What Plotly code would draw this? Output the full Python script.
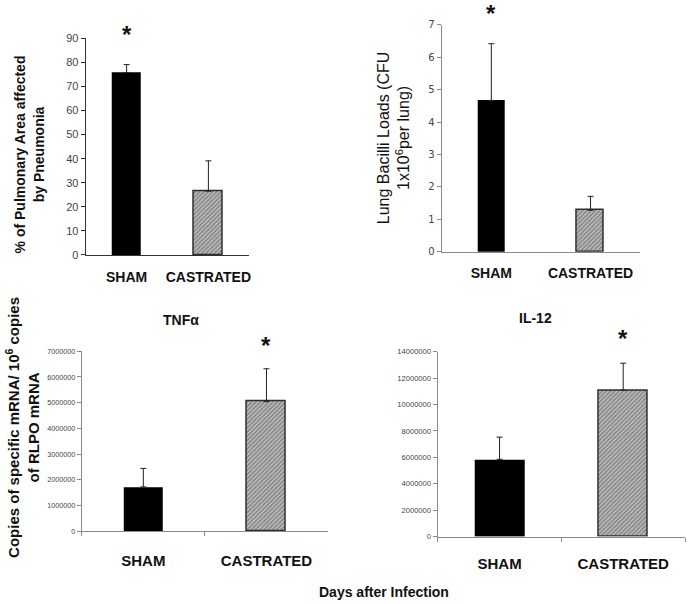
import plotly.graph_objects as go

# ---- data ----
categories = ["SHAM", "CASTRATED"]
pneumonia = [75.7, 26.5]
pneumonia_err = [3.4, 12.6]
bacilli = [4.67, 1.28]
bacilli_err = [1.75, 0.43]
tnf = [1720000, 5040000]
tnf_err = [720000, 1280000]
il12 = [5850000, 11080000]
il12_err = [1680000, 2050000]

W, H = 691, 604


def px(x):
    return x / W


def py(y):
    return 1 - y / H


fig = go.Figure()

panels = [
    # suffix, values, errors, bar width, x px range, y px range (top,bottom), y range, dtick
    ("", pneumonia, pneumonia_err, 0.354, (86, 250), (33, 254), 90, 10),
    ("2", bacilli, bacilli_err, 0.27, (443, 642), (19.3, 250.7), 7, 1),
    ("3", tnf, tnf_err, 0.32, (82, 329), (352.3, 535.7), 7000000, 1000000),
    ("4", il12, il12_err, 0.40, (439, 687), (352.7, 541.3), 14000000, 2000000),
]

for suf, vals, errs, bw, xr, yr, ymax, dt in panels:
    fig.add_trace(go.Bar(
        x=categories, y=vals, width=[bw, bw],
        marker=dict(
            color=["#000000", "#c4c4c4"],
            line=dict(color=["#000000", "#2e2e2e"], width=[0, 1.5]),
            pattern=dict(shape=["", "/"], size=3, solidity=0.55,
                         fgcolor=["#000000", "#363636"]),
        ),
        error_y=dict(type="data", symmetric=False, array=errs,
                     arrayminus=[0, 0], color="#222222", thickness=1, width=3),
        xaxis="x" + suf, yaxis="y" + suf, showlegend=False,
    ))

axis_color = {"": "#333333", "2": "#8a8a8a", "3": "#8a8a8a", "4": "#8a8a8a"}
tick_fonts = {
    "": dict(family="Liberation Sans, Arial", size=11, color="#444444"),
    "2": dict(family="DejaVu Sans", size=10, color="#444444"),
    "3": dict(family="Liberation Sans, Arial", size=7.2, color="#444444"),
    "4": dict(family="Liberation Sans, Arial", size=7.6, color="#444444"),
}
x_label_font = {
    "": dict(family="Liberation Sans, Arial", size=14, color="#111111"),
    "2": dict(family="Liberation Sans, Arial", size=14, color="#111111"),
    "3": dict(family="Liberation Sans, Arial", size=15, color="#111111"),
    "4": dict(family="Liberation Sans, Arial", size=15, color="#111111"),
}
standoffs = {"": 9, "2": 8, "3": 16, "4": 13}

layout = dict(
    width=W, height=H, margin=dict(l=0, r=0, t=0, b=0),
    plot_bgcolor="white", paper_bgcolor="white", bargap=0,
)

for suf, vals, errs, bw, xr, yr, ymax, dt in panels:
    bottom = suf in ("3", "4")
    layout["xaxis" + suf] = dict(
        domain=[px(xr[0]), px(xr[1])],
        anchor="y" + suf,
        type="category",
        range=[-0.5, 1.5],
        showline=True, linecolor=axis_color[suf], linewidth=1.3,
        showgrid=False, zeroline=False,
        ticks="outside" if bottom else "",
        tickson="boundaries", ticklen=4, tickcolor=axis_color[suf],
        tickfont=x_label_font[suf],
        ticklabelstandoff=standoffs[suf],
        tickvals=categories,
        ticktext=["<b>" + c + "</b>" for c in categories],
        fixedrange=True,
    )
    layout["yaxis" + suf] = dict(
        domain=[py(yr[1]), py(yr[0])],
        anchor="x" + suf,
        range=[0, ymax], dtick=dt, tick0=0,
        showline=True, linecolor=axis_color[suf], linewidth=1.3,
        showgrid=False, zeroline=False,
        ticks="outside", ticklen=4, tickcolor=axis_color[suf],
        tickfont=tick_fonts[suf], tickformat="d",
        fixedrange=True,
    )

fig.update_layout(**layout)

bold = dict(family="Liberation Sans, Arial", color="#111111")
ann = []
# y-axis titles
ann.append(dict(text="<b>% of Pulmonary Area affected<br>by Pneumonia</b>",
                x=px(29.5), y=py(151), textangle=-90,
                font=dict(size=14, **bold)))
ann.append(dict(text="Lung Bacilli Loads (CFU<br>1x10<sup>6</sup>per lung)",
                x=px(395), y=py(134), textangle=-90,
                font=dict(family="Liberation Sans, Arial", size=16, color="#111111")))
ann.append(dict(text="<b>Copies of specific mRNA/ 10<sup>6</sup> copies<br>of RLPO mRNA</b>",
                x=px(22.5), y=py(430), textangle=-90,
                font=dict(size=15, **bold)))
# panel titles
ann.append(dict(text="<b>TNFα</b>", x=px(182), y=py(320), font=dict(size=14, **bold)))
ann.append(dict(text="<b>IL-12</b>", x=px(537), y=py(318), font=dict(size=14, **bold)))
# common x title
ann.append(dict(text="<b>Days after Infection</b>", x=px(385), y=py(598),
                font=dict(size=14, **bold)))

for a in ann:
    a.update(xref="paper", yref="paper", showarrow=False,
             xanchor="center", yanchor="middle")

# significance stars (anchored to the SHAM/CASTRATED bars)
stars = [("", "SHAM", 29), ("2", "SHAM", 8), ("3", "CASTRATED", 346), ("4", "CASTRATED", 339)]
for suf, cat, ypx in stars:
    ann.append(dict(text="<b>*</b>", xref="x" + suf, x=cat, yref="paper",
                    y=py(ypx), showarrow=False, xanchor="center",
                    yanchor="middle", font=dict(size=24, **bold)))

fig.update_layout(annotations=ann)

fig.write_html(
    "out.html",
    config={"displayModeBar": False},
    post_script="document.body.style.margin='0';document.body.style.overflow='hidden';",
)
